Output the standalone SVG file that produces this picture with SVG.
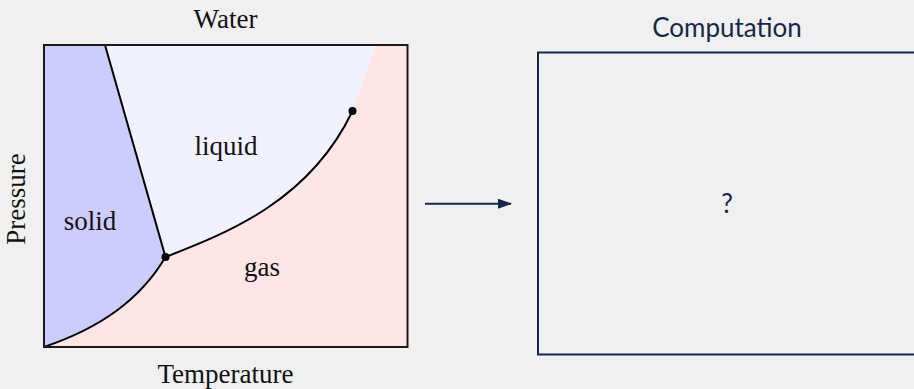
<svg xmlns="http://www.w3.org/2000/svg" width="914" height="389" viewBox="0 0 914 389">
  <style>
    .serif { font-family: "Liberation Serif", "Times New Roman", serif; font-size: 27px; fill: #111; }
    .sans { font-family: Lato, "Open Sans", sans-serif; font-size: 26px; fill: #15284b; }
    .curve { fill: none; stroke: #000; stroke-width: 2; }
    .navy { stroke: #15284b; stroke-width: 2; fill: none; }
  </style>
  <defs>
    <marker id="arrow" viewBox="0 0 14 10" refX="13" refY="5" markerWidth="14" markerHeight="10" markerUnits="userSpaceOnUse" orient="auto">
      <path d="M0,0 L14,5 L0,10 Z" fill="#15284b"/>
    </marker>
  </defs>
  <rect x="0" y="0" width="914" height="389" fill="#f0f0f0"/>

  <g id="water">
    <rect x="44" y="45" width="363.5" height="302" fill="#ffe6e6"/>
    <path d="M44,45 L105,45 L165.5,257 C140,300 100,328 44,347 Z" fill="#ccccff"/>
    <path d="M105,45 L376.5,45 L352.5,111 C310,200 230,232 165.5,257 Z" fill="#f2f2ff"/>
    <line class="curve" x1="105" y1="45" x2="165.5" y2="257"/>
    <path class="curve" d="M44,347 C100,328 140,300 165.5,257"/>
    <path class="curve" d="M165.5,257 C230,232 310,200 352.5,111"/>
    <circle cx="165.5" cy="257" r="4" fill="#000"/>
    <circle cx="352.5" cy="111" r="4" fill="#000"/>
    <rect x="44" y="45" width="363.5" height="302" fill="none" stroke="#1a1a1a" stroke-width="2"/>
    <text class="serif" x="225.5" y="28" text-anchor="middle">Water</text>
    <text class="serif" x="225.5" y="383" text-anchor="middle">Temperature</text>
    <text class="serif" transform="translate(25,199) rotate(-90)" text-anchor="middle">Pressure</text>
    <text class="serif" x="226" y="155" text-anchor="middle">liquid</text>
    <text class="serif" x="90" y="230" text-anchor="middle">solid</text>
    <text class="serif" x="262" y="276" text-anchor="middle">gas</text>
  </g>

  <g id="computation">
    <rect class="navy" x="538" y="52.5" width="400" height="302"/>
    <text class="sans" x="727" y="37" text-anchor="middle">Computation</text>
    <text class="sans" x="727" y="213" text-anchor="middle">?</text>
  </g>

  <g id="connectors">
    <line class="navy" x1="425" y1="203.7" x2="511" y2="203.7" marker-end="url(#arrow)"/>
  </g>
</svg>
